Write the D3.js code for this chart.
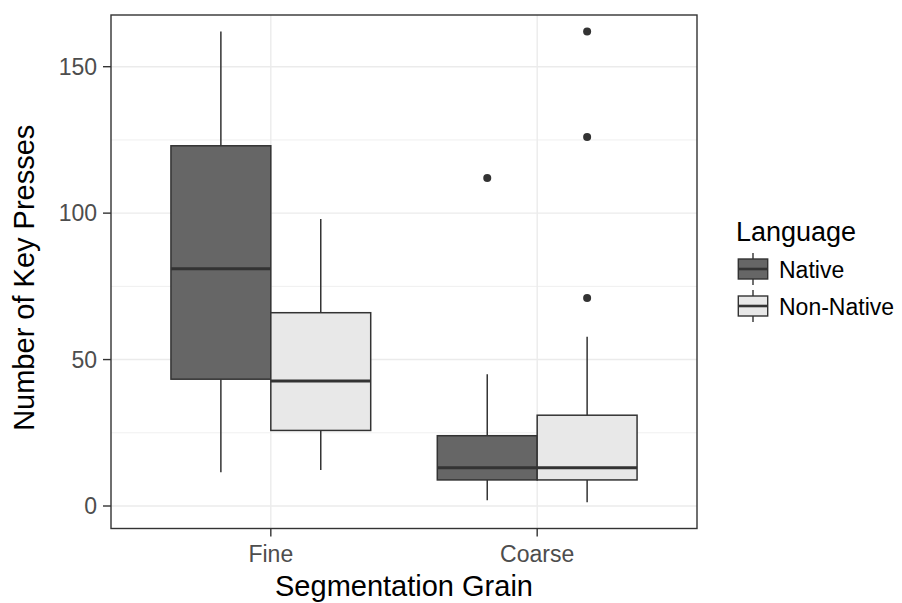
<!DOCTYPE html>
<html>
<head>
<meta charset="utf-8">
<script src="https://cdn.jsdelivr.net/npm/d3@7"></script>
<style>
  html, body { margin: 0; padding: 0; background: #fff; }
  svg { display: block; font-family: "Liberation Sans", Arial, sans-serif; }
</style>
</head>
<body>
<svg id="chart" width="902" height="603"></svg>
<script>
// ---- data ----
const categories = ["Fine", "Coarse"];
const groups = ["Native", "Non-Native"];
// five-number summaries [lower whisker, Q1, median, Q3, upper whisker]
const fineNative = [11.5, 43.3, 81, 123, 162];
const fineNonNative = [12.3, 25.8, 42.7, 66, 98];
const coarseNative = [2, 8.9, 13.1, 24, 45];
const coarseNonNative = [1.3, 8.9, 13.1, 31, 57.8];
const fineNativeOutliers = [];
const fineNonNativeOutliers = [];
const coarseNativeOutliers = [112];
const coarseNonNativeOutliers = [71, 126, 162];
const yTicks = [0, 50, 100, 150];
const yMinor = [25, 75, 125];

const boxes = [
  { cat: "Fine", grp: "Native", s: fineNative, out: fineNativeOutliers },
  { cat: "Fine", grp: "Non-Native", s: fineNonNative, out: fineNonNativeOutliers },
  { cat: "Coarse", grp: "Native", s: coarseNative, out: coarseNativeOutliers },
  { cat: "Coarse", grp: "Non-Native", s: coarseNonNative, out: coarseNonNativeOutliers }
];

const fills = { "Native": "#666666", "Non-Native": "#e8e8e8" };
const lineCol = "#333333";

const svg = d3.select("#chart");
const P = { left: 111, right: 697, top: 15, bottom: 528.5 };

const x = d3.scaleLinear().domain([0.4, 2.6]).range([P.left, P.right]);
const y = d3.scaleLinear().domain([0, 150]).range([506, 66.7]);
const catPos = c => categories.indexOf(c) + 1;
const dodge = d3.scaleBand().domain(groups).range([-0.375, 0.375]);

// panel background
svg.append("rect").attr("x", P.left).attr("y", P.top)
  .attr("width", P.right - P.left).attr("height", P.bottom - P.top)
  .attr("fill", "#fff");

const grid = svg.append("g");
yMinor.forEach(v => grid.append("line")
  .attr("x1", P.left).attr("x2", P.right).attr("y1", y(v)).attr("y2", y(v))
  .attr("stroke", "#ebebeb").attr("stroke-width", 0.8));
yTicks.forEach(v => grid.append("line")
  .attr("x1", P.left).attr("x2", P.right).attr("y1", y(v)).attr("y2", y(v))
  .attr("stroke", "#ebebeb").attr("stroke-width", 1.4));
categories.forEach(c => grid.append("line")
  .attr("x1", x(catPos(c))).attr("x2", x(catPos(c))).attr("y1", P.top).attr("y2", P.bottom)
  .attr("stroke", "#ebebeb").attr("stroke-width", 1.4));

// boxes
const g = svg.append("g");
boxes.forEach(b => {
  const x0 = x(catPos(b.cat) + dodge(b.grp));
  const x1 = x(catPos(b.cat) + dodge(b.grp) + dodge.bandwidth());
  const xm = (x0 + x1) / 2;
  const [lo, q1, med, q3, hi] = b.s;
  g.append("line").attr("x1", xm).attr("x2", xm).attr("y1", y(q3)).attr("y2", y(hi))
    .attr("stroke", lineCol).attr("stroke-width", 1.5);
  g.append("line").attr("x1", xm).attr("x2", xm).attr("y1", y(q1)).attr("y2", y(lo))
    .attr("stroke", lineCol).attr("stroke-width", 1.5);
  g.append("rect").attr("x", x0).attr("y", y(q3)).attr("width", x1 - x0)
    .attr("height", y(q1) - y(q3)).attr("fill", fills[b.grp])
    .attr("stroke", lineCol).attr("stroke-width", 1.5);
  g.append("line").attr("x1", x0).attr("x2", x1).attr("y1", y(med)).attr("y2", y(med))
    .attr("stroke", lineCol).attr("stroke-width", 3);
  b.out.forEach(o => g.append("circle").attr("cx", xm).attr("cy", y(o)).attr("r", 4)
    .attr("fill", lineCol));
});

// panel border
svg.append("rect").attr("x", P.left).attr("y", P.top)
  .attr("width", P.right - P.left).attr("height", P.bottom - P.top)
  .attr("fill", "none").attr("stroke", lineCol).attr("stroke-width", 1.4);

// y axis
const yAxis = svg.append("g");
yTicks.forEach(v => {
  yAxis.append("line").attr("x1", P.left - 8).attr("x2", P.left).attr("y1", y(v)).attr("y2", y(v))
    .attr("stroke", lineCol).attr("stroke-width", 1.4);
  yAxis.append("text").attr("x", P.left - 14).attr("y", y(v)).attr("dy", "0.36em")
    .attr("text-anchor", "end").attr("font-size", 23).attr("fill", "#4d4d4d").text(v);
});
// x axis
const xAxis = svg.append("g");
categories.forEach(c => {
  const xc = x(catPos(c));
  xAxis.append("line").attr("x1", xc).attr("x2", xc).attr("y1", P.bottom).attr("y2", P.bottom + 8)
    .attr("stroke", lineCol).attr("stroke-width", 1.4);
  xAxis.append("text").attr("x", xc).attr("y", 562).attr("text-anchor", "middle")
    .attr("font-size", 23).attr("fill", "#4d4d4d").text(c);
});

// axis titles
svg.append("text").attr("x", (P.left + P.right) / 2).attr("y", 596)
  .attr("text-anchor", "middle").attr("font-size", 29).attr("fill", "#000")
  .text("Segmentation Grain");
svg.append("text").attr("transform", `translate(34, ${(P.top + P.bottom) / 2 + 6}) rotate(-90)`)
  .attr("text-anchor", "middle").attr("font-size", 29).attr("fill", "#000")
  .text("Number of Key Presses");

// legend
const lg = svg.append("g");
lg.append("text").attr("x", 736).attr("y", 241).attr("font-size", 27).attr("fill", "#000")
  .text("Language");
groups.forEach((grp, i) => {
  const top = 253 + i * 37;
  const bx0 = 738.3, bx1 = 767.7, bxm = (bx0 + bx1) / 2;
  lg.append("line").attr("x1", bxm).attr("x2", bxm).attr("y1", top).attr("y2", top + 32)
    .attr("stroke", lineCol).attr("stroke-width", 1.4);
  lg.append("rect").attr("x", bx0).attr("y", top + 6).attr("width", bx1 - bx0).attr("height", 20)
    .attr("fill", fills[grp]).attr("stroke", lineCol).attr("stroke-width", 1.4);
  lg.append("line").attr("x1", bx0).attr("x2", bx1).attr("y1", top + 16).attr("y2", top + 16)
    .attr("stroke", lineCol).attr("stroke-width", 2.6);
  lg.append("text").attr("x", 779).attr("y", top + 24.5).attr("font-size", 23).attr("fill", "#000")
    .text(grp);
});
</script>
</body>
</html>
